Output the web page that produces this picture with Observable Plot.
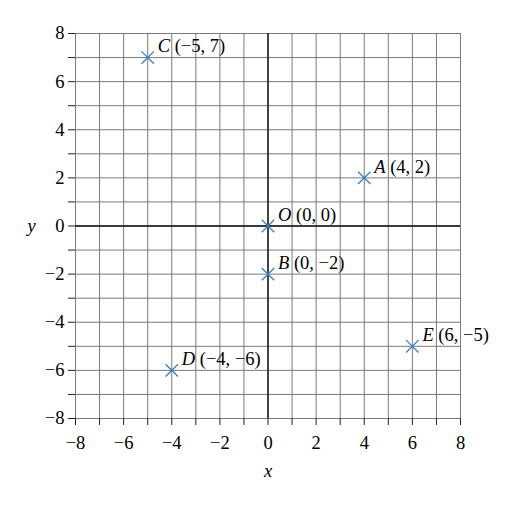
<!DOCTYPE html>
<html>
<head>
<meta charset="utf-8">
<script src="https://cdn.jsdelivr.net/npm/d3@7"></script>
<script src="https://cdn.jsdelivr.net/npm/@observablehq/plot@0.6"></script>
<style>
  body { margin: 0; background: #fff; }
  svg text { font-family: "Liberation Serif", serif; }
</style>
</head>
<body>
<div id="chart"></div>
<script>
const pointNames = ["C", "A", "O", "B", "E", "D"];
const pointX = [-5, 4, 0, 0, 6, -4];
const pointY = [7, 2, 0, -2, -5, -6];
const gridValues = d3.range(-8, 9);
const labelValues = [-8, -6, -4, -2, 0, 2, 4, 6, 8];

const fmt = v => (v < 0 ? "\u2212" + Math.abs(v) : String(v));
const points = pointNames.map((n, i) => ({
  name: n, x: pointX[i], y: pointY[i],
  rest: " (" + fmt(pointX[i]) + ", " + fmt(pointY[i]) + ")"
}));

const serif = "Liberation Serif";
const blue = "#3b7fc1";

const chart = Plot.plot({
  width: 527,
  height: 507,
  marginLeft: 75,
  marginRight: 67,
  marginTop: 33,
  marginBottom: 89,
  style: { fontFamily: serif, fontSize: "18.5px", background: "#fff", color: "#000" },
  x: { domain: [-8, 8] },
  y: { domain: [-8, 8] },
  marks: [
    Plot.ruleX(gridValues, { stroke: "#7a7a7a", strokeWidth: 1 }),
    Plot.ruleY(gridValues, { stroke: "#7a7a7a", strokeWidth: 1 }),
    Plot.ruleX([0], { stroke: "#111", strokeWidth: 1.4 }),
    Plot.ruleY([0], { stroke: "#111", strokeWidth: 1.4 }),
    Plot.axisX({ ticks: gridValues, tickSize: 7, tickPadding: 10, stroke: "#222",
      tickFormat: d => (labelValues.includes(d) ? fmt(d) : ""), label: null, fontSize: 18.5 }),
    Plot.axisY({ ticks: gridValues, tickSize: 7, tickPadding: 4, stroke: "#222",
      tickFormat: d => (labelValues.includes(d) ? fmt(d) : ""), label: null, fontSize: 18.5 }),
    Plot.dot(points, { x: "x", y: "y", symbol: "times", r: 5.7, stroke: blue, strokeWidth: 1.3 }),
    Plot.text(points, {
      x: "x", y: "y", text: d => d.name + "|" + d.rest, textAnchor: "start",
      dx: 10, dy: -11, fontSize: 18.5, fill: "#000",
      render(index, scales, values, dims, context, next) {
        const g = next(index, scales, values, dims, context);
        d3.select(g).selectAll("text").each(function () {
          const t = this.textContent;
          const [letter, rest] = t.split("|");
          const sel = d3.select(this);
          sel.text(null);
          sel.append("tspan").attr("font-style", "italic").text(letter);
          sel.append("tspan").text(rest);
        });
        return g;
      }
    }),
    Plot.text(["x"], { frameAnchor: "bottom", dy: 58, fontStyle: "italic", fontSize: 18.5 }),
    Plot.text(["y"], { frameAnchor: "left", dx: -48, fontStyle: "italic", fontSize: 18.5 })
  ]
});

document.getElementById("chart").appendChild(chart);
</script>
</body>
</html>
